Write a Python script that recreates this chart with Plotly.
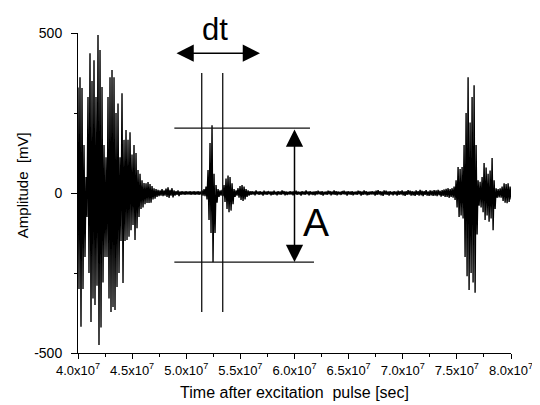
import plotly.graph_objects as go

# Signal envelope: max / min per sample column
T0 = 4.0e7          # first sample time
STEP = 1.848e5      # sample spacing (sec)

burst1_hi = [330, 362, 328, 150, 50, 300, 437, 350, 415, 300, 494, 447, 331, 150, 112, 300, 362, 384, 362, 250,
             280, 112, 312, 166, 197, 166, 190, 120, 150, 125, 72, 60, 40, 31, 30, 34, 28]
burst1_lo = [-300, -418, -300, -200, -75, -250, -403, -330, -350, -290, -475, -420, -280, -200, -200, -330, -372, -356, -366, -294,
             -250, -150, -281, -150, -147, -137, -116, -100, -147, -110, -75, -50, -45, -35, -31, -31, -30]

quiet1_hi = [22, 15, 12, 10, 8, 12, 8, 14, 18, 10, 15, 8, 6, 8, 5, 6, 5, 6, 5, 6, 5, 6, 5, 6, 5, 8, 12, 20]
quiet1_lo = [-20, -18, -12, -10, -8, -10, -8, -12, -15, -8, -14, -8, -6, -10, -6, -5, -6, -5, -5, -6, -5, -6, -5, -6, -5, -8, -10, -20]

echo_hi = [72, 156, 212, 60, 25, 12, 8, 10, 25, 45, 55, 50, 30, 12, 8, 15, 22, 25, 20, 12, 8, 6]
echo_lo = [-84, -125, -216, -125, -30, -12, -8, -10, -28, -50, -60, -55, -35, -12, -8, -15, -22, -25, -20, -12, -8, -6]

quiet2_hi = [6, 5, 8, 5, 6, 4, 7, 5, 6, 5,
             5, 7, 4, 6, 5, 8, 6, 5, 4, 6,
             5, 6, 7, 5, 4, 6, 5, 8, 5, 6,
             4, 5, 6, 7, 5, 6, 4, 5, 7, 6,
             5, 8, 6, 5, 4, 6, 7, 5, 6, 5,
             6, 4, 5, 7, 6, 5, 8, 6, 4, 5,
             6, 5, 7, 9, 6, 5, 8, 7, 5, 6,
             4, 6, 5, 7, 6, 8, 5, 6, 9, 7,
             6, 5, 8, 6, 10, 7, 6, 9, 5, 8,
             7, 9, 8, 10, 7, 9, 11, 13, 15]
quiet2_lo = [-5, -7, -4, -6, -5, -8, -5, -6, -4, -7,
             -6, -5, -7, -5, -6, -4, -7, -6, -5, -5,
             -7, -4, -6, -5, -8, -5, -6, -4, -7, -5,
             -6, -7, -5, -4, -6, -8, -5, -6, -4, -7,
             -5, -6, -7, -5, -6, -4, -5, -8, -5, -6,
             -7, -5, -6, -4, -8, -6, -5, -7, -6, -5,
             -5, -8, -6, -5, -7, -9, -5, -6, -8, -5,
             -7, -5, -8, -6, -5, -7, -9, -6, -5, -8,
             -7, -9, -6, -8, -7, -10, -6, -8, -9, -7,
             -9, -8, -10, -7, -11, -9, -12, -12, -15]

burst2_hi = [12, 15, 20, 40, 81, 75, 81, 150, 250, 362, 220, 300, 337, 150, 40, 35, 50, 94, 80, 60,
             70, 109, 40, 15, 12, 15, 20, 30, 28, 30, 20]
burst2_lo = [-12, -15, -22, -45, -75, -70, -80, -200, -260, -303, -250, -280, -312, -130, -40, -45, -60, -84, -70, -90,
             -80, -116, -50, -15, -14, -15, -25, -30, -32, -28, -20]

x_ticks = [4.0e7, 4.5e7, 5.0e7, 5.5e7, 6.0e7, 6.5e7, 7.0e7, 7.5e7, 8.0e7]
x_ticktext = ["4.0x10<sup>7</sup>", "4.5x10<sup>7</sup>", "5.0x10<sup>7</sup>", "5.5x10<sup>7</sup>",
              "6.0x10<sup>7</sup>", "6.5x10<sup>7</sup>", "7.0x10<sup>7</sup>", "7.5x10<sup>7</sup>",
              "8.0x10<sup>7</sup>"]
x_minor = [4.25e7, 4.75e7, 5.25e7, 5.75e7, 6.25e7, 6.75e7, 7.25e7, 7.75e7]
y_ticks = [-500, 0, 500]
y_ticktext = ["-500", "0", "500"]

# Annotation geometry (data units)
dt_left, dt_right, dt_y = 4.896e7, 5.681e7, 437
marker_t1, marker_t2 = 5.143e7, 5.337e7
marker_top, marker_bot = 375, -372
level_hi, level_lo = 203, -216
level_x0, level_hi_x1, level_lo_x1 = 4.89e7, 6.143e7, 6.18e7
amp_x = 6.0e7

hi = burst1_hi + quiet1_hi + echo_hi + quiet2_hi + burst2_hi
lo = burst1_lo + quiet1_lo + echo_lo + quiet2_lo + burst2_lo

xs, ys = [], []
for i, (h, l) in enumerate(zip(hi, lo)):
    t = T0 + i * STEP
    xs += [t, t + STEP / 2]
    ys += [h, l]

FONT = "Liberation Sans, Arial, sans-serif"

fig = go.Figure()
fig.add_trace(go.Scatter(x=xs, y=ys, mode="lines", line=dict(color="black", width=1.4),
                         showlegend=False, hoverinfo="skip"))

line_style = dict(color="#111111", width=1.3)
shapes = [
    dict(type="line", xref="x", yref="y", x0=marker_t1, x1=marker_t1, y0=marker_bot, y1=marker_top, line=line_style),
    dict(type="line", xref="x", yref="y", x0=marker_t2, x1=marker_t2, y0=marker_bot, y1=marker_top, line=line_style),
    dict(type="line", xref="x", yref="y", x0=level_x0, x1=level_hi_x1, y0=level_hi, y1=level_hi, line=line_style),
    dict(type="line", xref="x", yref="y", x0=level_x0, x1=level_lo_x1, y0=level_lo, y1=level_lo, line=line_style),
]

annotations = [
    dict(x=dt_right, y=dt_y, ax=dt_left, ay=dt_y, xref="x", yref="y", axref="x", ayref="y",
         text="", showarrow=True, arrowhead=2, arrowside="end+start", arrowsize=2.3, arrowwidth=1.5,
         arrowcolor="black", standoff=0, startstandoff=0),
    dict(x=amp_x, y=level_lo, ax=amp_x, ay=level_hi, xref="x", yref="y", axref="x", ayref="y",
         text="", showarrow=True, arrowhead=2, arrowside="end+start", arrowsize=2.3, arrowwidth=1.5,
         arrowcolor="black", standoff=0, startstandoff=0),
    dict(x=5.266e7, y=1.01, xref="x", yref="paper", text="dt", showarrow=False, yanchor="middle",
         font=dict(size=31, color="black", family=FONT)),
    dict(x=6.2e7, y=-92, xref="x", yref="y", text="A", showarrow=False,
         font=dict(size=39, color="black", family=FONT)),
    dict(x=-0.129, y=0.525, xref="paper", yref="paper", text="Amplitude  [mV]", textangle=-90,
         showarrow=False, xanchor="center", yanchor="middle",
         font=dict(size=15, color="black", family=FONT)),
]

fig.update_layout(
    width=540, height=405,
    margin=dict(l=70, r=37, t=25, b=60),
    paper_bgcolor="white", plot_bgcolor="white",
    font=dict(family=FONT, size=13, color="black"),
    shapes=shapes, annotations=annotations,
    xaxis=dict(range=[4.0e7, 8.0e7], tickvals=x_ticks, ticktext=x_ticktext,
               ticks="outside", ticklen=5, tickwidth=1, tickcolor="black",
               showline=True, linecolor="black", linewidth=1, showgrid=False, zeroline=False,
               tickfont=dict(size=13),
               minor=dict(tickvals=x_minor, ticks="outside", ticklen=3, tickcolor="black", showgrid=False),
               title=dict(text="Time after excitation  pulse [sec]", font=dict(size=16), standoff=10)),
    yaxis=dict(range=[-500, 500], tickvals=y_ticks, ticktext=y_ticktext,
               ticks="outside", ticklen=6, tickwidth=1, tickcolor="black", ticklabelstandoff=6,
               showline=True, linecolor="black", linewidth=1, showgrid=False, zeroline=False,
               tickfont=dict(size=14),
               minor=dict(tickvals=[-250, 250], ticks="outside", ticklen=3, tickcolor="black", showgrid=False)),
)

fig.write_html("out.html")
